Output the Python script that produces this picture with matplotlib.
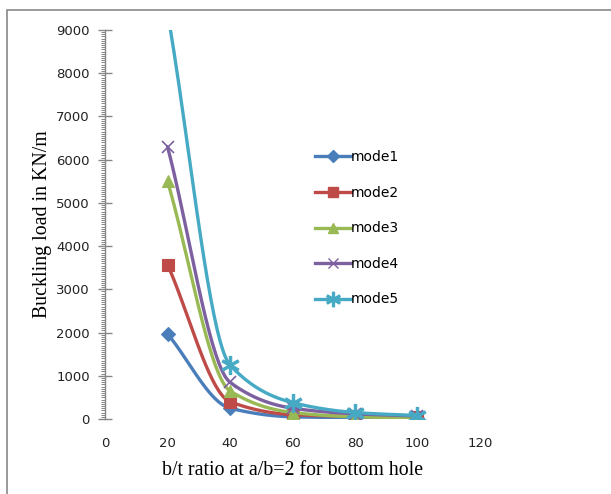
import numpy as np
import matplotlib
matplotlib.use("Agg")
import matplotlib.pyplot as plt
from matplotlib.lines import Line2D
from matplotlib.patches import Rectangle
from matplotlib.ticker import MultipleLocator

bt_ratio = [20, 40, 60, 80, 100]
mode1 = [1970, 250, 50, 30, 20]
mode2 = [3570, 400, 100, 60, 40]
mode3 = [5500, 650, 150, 50, 20]
mode4 = [6300, 850, 250, 120, 70]
mode5 = [9400, 1250, 380, 150, 80]
series_names = ["mode1", "mode2", "mode3", "mode4", "mode5"]
x_ticks = [0, 20, 40, 60, 80, 100, 120]
y_ticks = [0, 1000, 2000, 3000, 4000, 5000, 6000, 7000, 8000, 9000]

colors = ["#4A7EBB", "#BE4B48", "#98B954", "#7D60A0", "#46AAC5"]
markers = ["D", "s", "^", "x", "$\u2217$"]
msizes = [7.5, 9, 9, 9, 13]

W, H = 611, 494
fig = plt.figure(figsize=(W / 100, H / 100), dpi=100)
ax_l, ax_r, ax_t, ax_b = 105, 480, 30, 419
ax = fig.add_axes([ax_l / W, 1 - ax_b / H, (ax_r - ax_l) / W, (ax_b - ax_t) / H])

# outer border
fig.patches.append(Rectangle((7 / W, -0.1), 1.2, 1 - 10 / H + 0.1, transform=fig.transFigure,
                             fill=False, edgecolor="#898989", lw=1.2))


def pchip(xs, ys, n=40):
    x = np.array(xs, float)
    y = np.array(ys, float)
    h = np.diff(x)
    d = np.diff(y) / h
    m = np.zeros_like(y)
    for k in range(1, len(x) - 1):
        if d[k - 1] * d[k] > 0:
            w1 = 2 * h[k] + h[k - 1]
            w2 = h[k] + 2 * h[k - 1]
            m[k] = (w1 + w2) / (w1 / d[k - 1] + w2 / d[k])
    m[0] = d[0]
    m[-1] = d[-1]
    xo, yo = [], []
    for k in range(len(x) - 1):
        t = np.linspace(0, 1, n)
        h00 = 2 * t**3 - 3 * t**2 + 1
        h10 = t**3 - 2 * t**2 + t
        h01 = -2 * t**3 + 3 * t**2
        h11 = t**3 - t**2
        seg = h00 * y[k] + h10 * h[k] * m[k] + h01 * y[k + 1] + h11 * h[k] * m[k + 1]
        xo.extend(list(x[k] + t * h[k]))
        yo.extend(list(seg))
    return np.array(xo), np.array(yo)


all_series = [mode1, mode2, mode3, mode4, mode5]
handles = []
for ys, name, c, m, ms in zip(all_series, series_names, colors, markers, msizes):
    xs_s, ys_s = pchip(bt_ratio, ys)
    ax.plot(xs_s, ys_s, color=c, lw=2.4, solid_capstyle="round")
    ax.plot(bt_ratio, ys, linestyle="none", marker=m, color=c, markersize=ms,
            markeredgewidth=1.2 if m == "x" else 0.8)
    handles.append(Line2D([0], [0], color=c, lw=2.4, marker=m, markersize=ms * 0.8,
                          markeredgewidth=1.0))

ax.set_xlim(0, 120)
ax.set_ylim(0, 9000)
ax.set_xticks(x_ticks)
ax.set_yticks(y_ticks)
ax.yaxis.set_minor_locator(MultipleLocator(50))

for s in ["top", "right", "bottom"]:
    ax.spines[s].set_visible(False)
ax.spines["left"].set_color("#868686")
ax.spines["left"].set_linewidth(1.0)

ax.tick_params(axis="y", which="major", direction="inout", length=10, width=1,
               color="#868686", pad=6, labelsize=9.5, labelcolor="#222222")
ax.tick_params(axis="y", which="minor", direction="out", length=3, width=0.7, color="#868686")
ax.tick_params(axis="x", which="both", length=0, pad=13, labelsize=9.5, labelcolor="#222222")

ax.set_xlabel("b/t ratio at a/b=2 for bottom hole", family="Liberation Serif", fontsize=14.3,
              labelpad=8)
ax.set_ylabel("Buckling load in KN/m", family="Liberation Serif", fontsize=14.3, labelpad=3)

leg = ax.legend(handles, series_names, loc="upper left", bbox_to_anchor=(0.545, 0.705),
                frameon=False, fontsize=10, labelspacing=1.55, handlelength=2.6,
                handletextpad=0.0, borderaxespad=0)

fig.savefig("out.png", dpi=100)
